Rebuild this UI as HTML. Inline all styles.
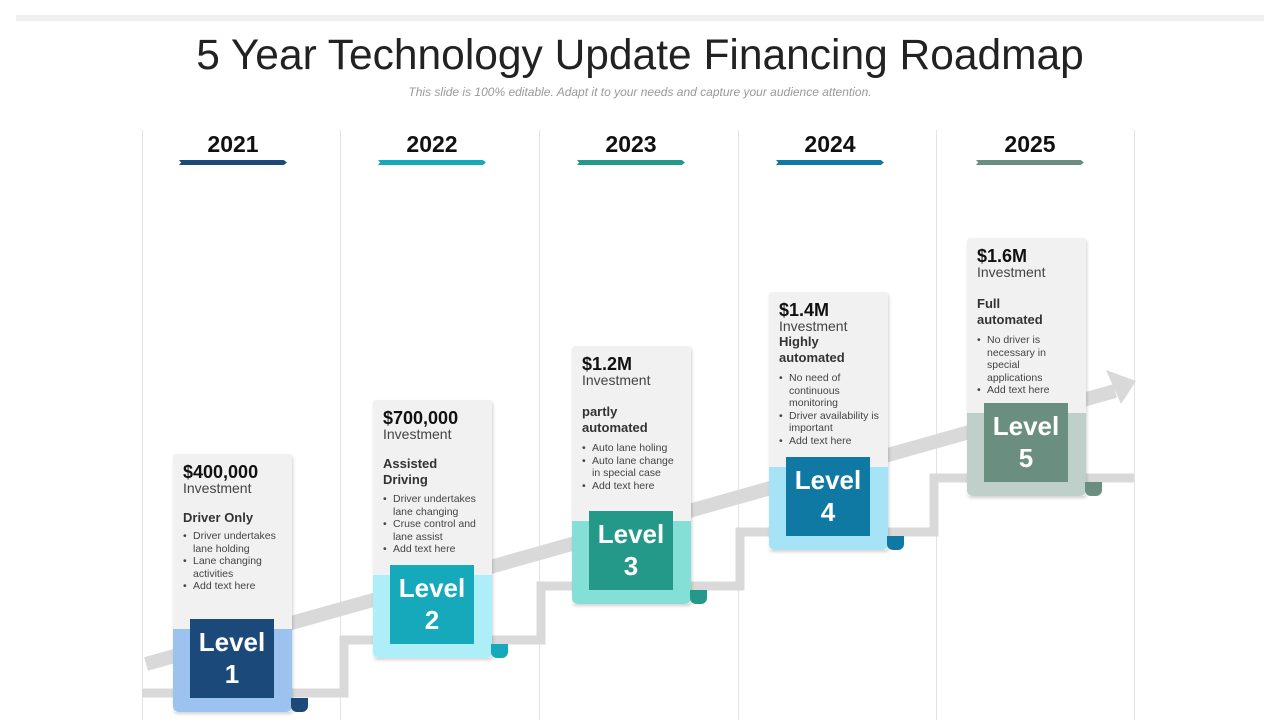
<!DOCTYPE html>
<html><head><meta charset="utf-8"><style>
body{margin:0;width:1280px;height:720px;background:#fff;font-family:"Liberation Sans",Arial,sans-serif;position:relative;overflow:hidden}
.abs{position:absolute}
.vline{position:absolute;top:130px;width:1px;height:590px;background:#e3e3e3}
.year{position:absolute;top:131px;width:120px;text-align:center;font-weight:bold;font-size:23px;color:#111}
.ybar{position:absolute;top:160px;width:108px;height:5px;clip-path:polygon(0 0,97% 0,100% 50%,97% 100%,0 100%,2% 50%)}
.card{position:absolute;width:119px;height:258px;background:#f1f1f1;border-radius:3px;box-shadow:1px 2px 3px rgba(0,0,0,.18)}
.card .lt{position:absolute;left:0;right:0;bottom:0;height:83px;border-radius:0 0 6px 6px}
.card .lv{position:absolute;left:17px;width:84px;top:165px;height:79px;color:#fff;font-weight:bold;font-size:26px;line-height:32px;text-align:center;padding-top:7px;box-sizing:border-box}
.card .tab{position:absolute;left:118px;top:244px;width:17px;height:14px;border-radius:0 0 6px 6px}
.card .amt{position:absolute;left:10px;top:8px;font-size:18px;font-weight:bold;color:#111}
.card .inv{position:absolute;left:10px;top:26px;font-size:14px;color:#444}
.card .ttl{position:absolute;left:10px;font-size:13px;font-weight:bold;color:#333;line-height:16px}
.card ul{position:absolute;left:10px;margin:0;padding:0 0 0 10px;font-size:10.5px;line-height:12.6px;color:#444;width:90px}
.card li{list-style:none;position:relative}
.card li:before{content:"•";position:absolute;left:-10px}
</style></head><body>
<div class="abs" style="left:16px;top:15px;width:1248px;height:6px;background:#f0f0f0"></div>
<div class="abs" style="left:0;top:32px;width:1280px;text-align:center;font-size:42.5px;color:#222">5 Year Technology Update Financing Roadmap</div>
<div class="abs" style="left:0;top:85px;width:1280px;text-align:center;font-size:12px;font-style:italic;color:#999">This slide is 100% editable. Adapt it to your needs and capture your audience attention.</div>

<div class="vline" style="left:142px"></div>
<div class="vline" style="left:340px"></div>
<div class="vline" style="left:539px"></div>
<div class="vline" style="left:738px"></div>
<div class="vline" style="left:936px"></div>
<div class="vline" style="left:1134px"></div>

<div class="year" style="left:173px">2021</div>
<div class="ybar" style="left:179px;background:#1b4a7a"></div>
<div class="year" style="left:372px">2022</div>
<div class="ybar" style="left:378px;background:#16a9bb"></div>
<div class="year" style="left:571px">2023</div>
<div class="ybar" style="left:577px;background:#24998a"></div>
<div class="year" style="left:770px">2024</div>
<div class="ybar" style="left:776px;background:#0f78a3"></div>
<div class="year" style="left:970px">2025</div>
<div class="ybar" style="left:976px;background:#6a8f80"></div>

<svg class="abs" style="left:0;top:0" width="1280" height="720">
<polyline points="142,693 344,693 344,640 541,640 541,586 740,586 740,532 934,532 934,478 1134,478" fill="none" stroke="#d9d9d9" stroke-width="9"/>
<line x1="146" y1="664" x2="1115" y2="391" stroke="#d9d9d9" stroke-width="14"/>
<polygon points="1136,381 1106,370 1121,404" fill="#d9d9d9"/>
</svg>

<div class="card" style="left:173px;top:454px">
<div class="lt" style="background:#9cc3ef"></div><div class="tab" style="background:#1b4a7a"></div>
<div class="amt">$400,000</div><div class="inv">Investment</div>
<div class="ttl" style="top:56px">Driver Only</div>
<ul style="top:76px"><li>Driver undertakes lane holding</li><li>Lane changing activities</li><li>Add text here</li></ul>
<div class="lv" style="background:#1b4a7a">Level<br>1</div></div>

<div class="card" style="left:373px;top:400px">
<div class="lt" style="background:#aeeef8"></div><div class="tab" style="background:#16a9bb"></div>
<div class="amt">$700,000</div><div class="inv">Investment</div>
<div class="ttl" style="top:56px">Assisted<br>Driving</div>
<ul style="top:93px"><li>Driver undertakes lane changing</li><li>Cruse control and lane assist</li><li>Add text here</li></ul>
<div class="lv" style="background:#16a9bb">Level<br>2</div></div>

<div class="card" style="left:572px;top:346px">
<div class="lt" style="background:#84e0d6"></div><div class="tab" style="background:#24998a"></div>
<div class="amt">$1.2M</div><div class="inv">Investment</div>
<div class="ttl" style="top:58px">partly<br>automated</div>
<ul style="top:96px"><li>Auto lane holing</li><li>Auto lane change in special case</li><li>Add text here</li></ul>
<div class="lv" style="background:#24998a">Level<br>3</div></div>

<div class="card" style="left:769px;top:292px">
<div class="lt" style="background:#a6e3f7"></div><div class="tab" style="background:#0f78a3"></div>
<div class="amt">$1.4M</div><div class="inv">Investment</div>
<div class="ttl" style="top:42px">Highly<br>automated</div>
<ul style="top:80px"><li>No need of continuous monitoring</li><li>Driver availability is important</li><li>Add text here</li></ul>
<div class="lv" style="background:#0f78a3">Level<br>4</div></div>

<div class="card" style="left:967px;top:238px">
<div class="lt" style="background:#bfcfc9"></div><div class="tab" style="background:#6a8f80"></div>
<div class="amt">$1.6M</div><div class="inv">Investment</div>
<div class="ttl" style="top:58px">Full<br>automated</div>
<ul style="top:96px;width:80px"><li>No driver is necessary in special applications</li><li>Add text here</li></ul>
<div class="lv" style="background:#6a8f80">Level<br>5</div></div>
</body></html>
